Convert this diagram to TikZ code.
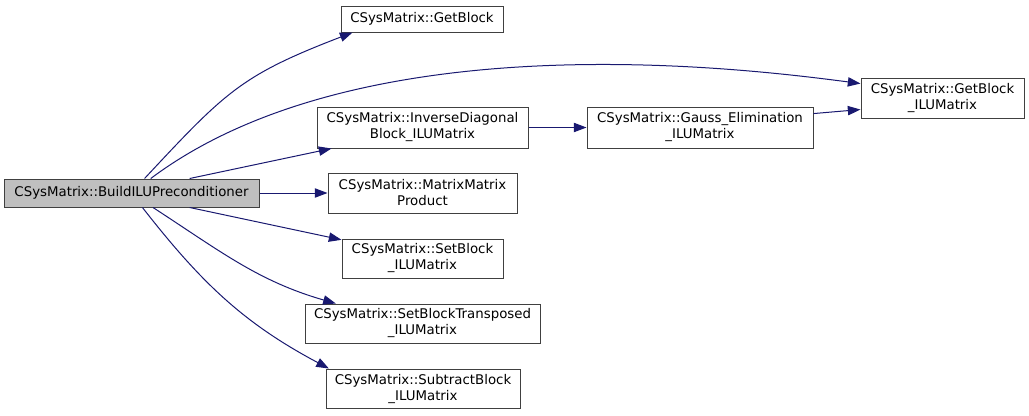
\documentclass[tikz,border=0pt]{standalone}
\usepackage{fontspec}
\setmainfont{DejaVu Sans}
\usepackage{xcolor}
\definecolor{dxedge}{RGB}{25, 25, 112}
\definecolor{dxborder}{RGB}{64, 64, 64}
\definecolor{dxroot}{RGB}{191, 191, 191}
\usetikzlibrary{arrows.meta}

\begin{document}
\begin{tikzpicture}[x=0.75pt, y=0.75pt, >={Triangle[length=9.5pt, width=7pt]}]

% === Parámetros ===
\def\px{0.75pt}    % un pixel de la imagen

\tikzset{
    fnbox/.style={draw=dxborder, line width=\px, fill=white, align=center,
        inner sep=0pt, minimum height=39*\px,
        font=\fontsize{10}{12}\selectfont},
    rootbox/.style={fnbox, fill=dxroot, minimum height=28*\px},
    call/.style={->, dxedge, line width=\px}
}

% === Lienzo ===
\useasboundingbox (0,0) rectangle (1029,-415);

% === Función raíz ===
\node[rootbox, minimum width=255*\px] (build) at (131.5,-193)
    {CSysMatrix::BuildILUPreconditioner};

% === Funciones llamadas ===
\node[fnbox, minimum width=162*\px, minimum height=26*\px] (getblock) at (422,-19)
    {CSysMatrix::GetBlock};
\node[fnbox, minimum width=211*\px, minimum height=41*\px] (invdiag) at (422.5,-127.5)
    {CSysMatrix::InverseDiagonal\\Block\_ILUMatrix};
\node[fnbox, minimum width=226*\px, minimum height=41*\px] (gauss) at (700,-127.5)
    {CSysMatrix::Gauss\_Elimination\\\_ILUMatrix};
\node[fnbox, minimum width=163*\px, minimum height=40*\px] (getblockilu) at (942.5,-98)
    {CSysMatrix::GetBlock\\\_ILUMatrix};
\node[fnbox, minimum width=189*\px, minimum height=40*\px] (mmprod) at (422.5,-193)
    {CSysMatrix::MatrixMatrix\\Product};
\node[fnbox, minimum width=161*\px] (setblock) at (422.5,-258.5)
    {CSysMatrix::SetBlock\\\_ILUMatrix};
\node[fnbox, minimum width=235*\px] (setblockt) at (422.5,-323.5)
    {CSysMatrix::SetBlockTransposed\\\_ILUMatrix};
\node[fnbox, minimum width=194*\px] (subblock) at (423,-388.5)
    {CSysMatrix::SubtractBlock\\\_ILUMatrix};

% === Llamadas ===
\draw[call] (build.48) to[out=47, in=-159, looseness=1.2] (getblock.191);
\draw[call] (build.37) .. controls (361,-21) and (742,-68) .. (getblockilu.170);
\draw[call] (build.14) -- (invdiag.193);
\draw[call] (build.east) -- (mmprod.west);
\draw[call] (build.-14) -- (setblock.167);
\draw[call] (build.-34) to[out=-33, in=164] (setblockt.167);
\draw[call] (build.-53) to[out=-52, in=152] (subblock.168);

% Llamadas encadenadas
\draw[call] (invdiag.east) -- (gauss.west);
\draw[call] (gauss.7) -- (getblockilu.188);

\end{tikzpicture}
\end{document}
